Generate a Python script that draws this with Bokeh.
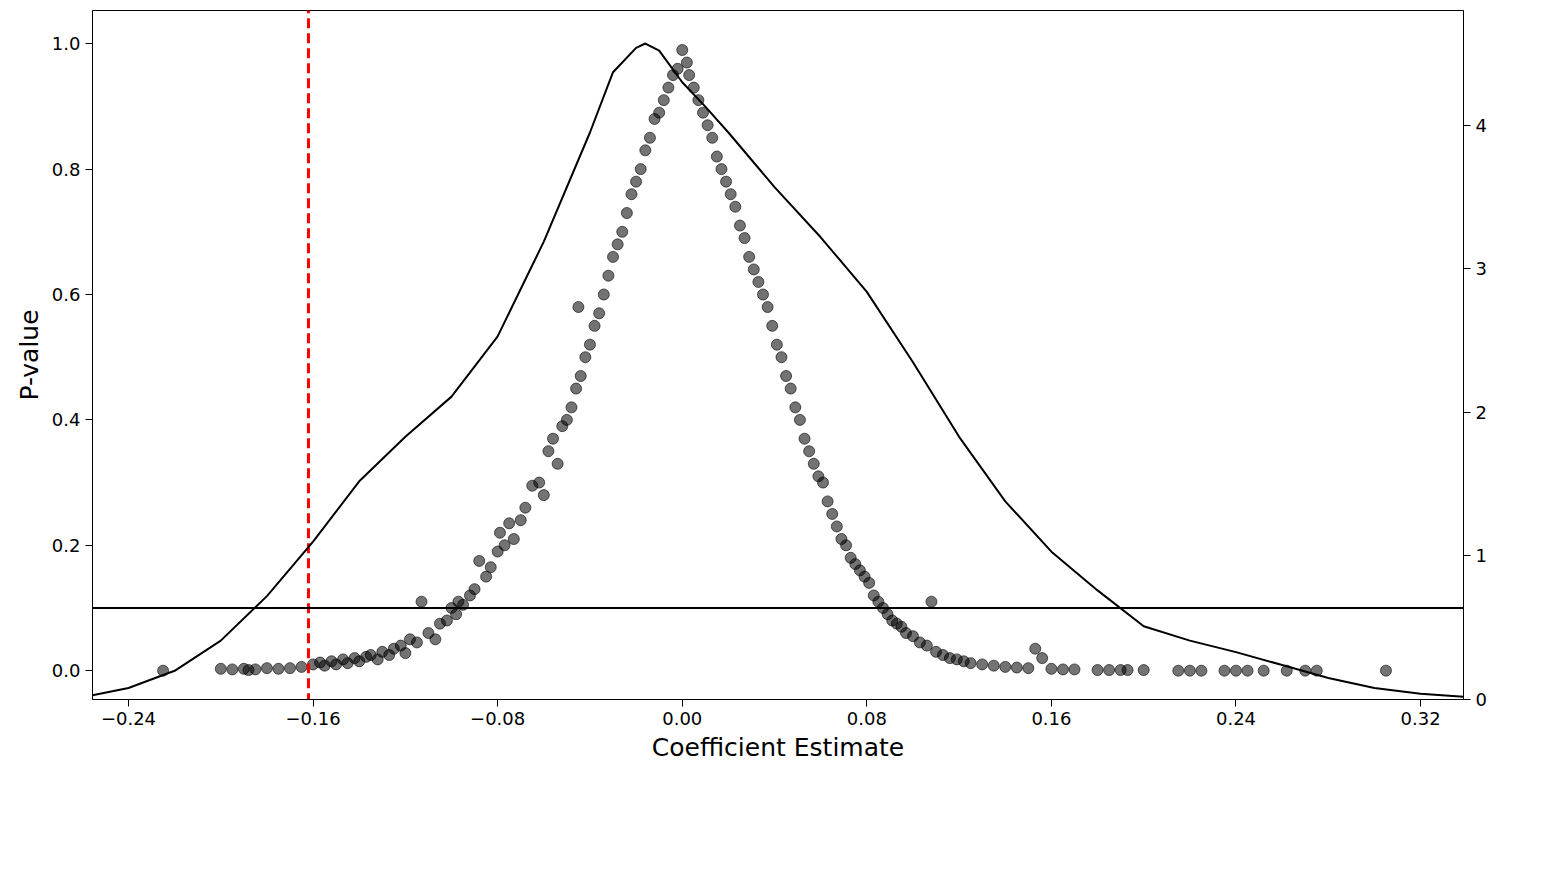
import math
from bokeh.plotting import figure
from bokeh.models import Range1d, LinearAxis, Legend, LegendItem, Span, FixedTicker, Label
from bokeh.embed import file_html
from bokeh.resources import INLINE

coef = [-0.225,-0.2,-0.195,-0.19,-0.188,-0.185,-0.18,-0.175,-0.17,-0.165,-0.16,-0.157,-0.155,-0.152,-0.15,-0.147,-0.145,-0.142,-0.14,-0.137,-0.135,-0.132,-0.13,-0.127,-0.125,-0.122,-0.12,-0.118,-0.115,-0.113,-0.11,-0.107,-0.105,-0.102,-0.1,-0.098,-0.097,-0.095,-0.092,-0.09,-0.088,-0.085,-0.083,-0.08,-0.079,-0.077,-0.075,-0.073,-0.07,-0.068,-0.065,-0.062,-0.06,-0.058,-0.056,-0.054,-0.052,-0.05,-0.048,-0.046,-0.045,-0.044,-0.042,-0.04,-0.038,-0.036,-0.034,-0.032,-0.03,-0.028,-0.026,-0.024,-0.022,-0.02,-0.018,-0.016,-0.014,-0.012,-0.01,-0.008,-0.006,-0.004,-0.002,0.0,0.002,
0.003,0.005,0.007,0.009,0.011,0.013,0.015,0.017,0.019,0.021,0.023,0.025,0.027,0.029,0.031,0.033,0.035,0.037,0.039,0.041,0.043,0.045,0.047,0.049,0.051,0.053,0.055,0.057,0.059,0.061,0.063,0.065,0.067,0.069,0.071,0.073,0.075,0.077,0.079,0.081,0.083,0.085,0.087,0.089,0.091,0.093,0.095,0.097,0.1,0.103,0.106,0.108,0.11,0.113,0.116,0.119,0.122,0.125,0.13,0.135,0.14,0.145,0.15,0.153,0.156,0.16,0.165,0.17,0.18,0.185,0.19,0.193,0.2,0.215,0.22,0.225,0.235,0.24,0.245,0.252,0.262,0.27,0.275,0.305]
pvals = [0,0.003,0.002,0.003,0.001,0.002,0.004,0.003,0.004,0.006,0.01,0.013,0.008,0.015,0.01,0.018,0.012,0.02,0.015,0.022,0.025,0.018,0.03,0.025,0.035,0.04,0.028,0.05,0.045,0.11,0.06,0.05,0.075,0.08,0.1,0.09,0.11,0.105,0.12,0.13,0.175,0.15,0.165,0.19,0.22,0.2,0.235,0.21,0.24,0.26,0.295,0.3,0.28,0.35,0.37,0.33,0.39,0.4,0.42,0.45,0.58,0.47,0.5,0.52,0.55,0.57,0.6,0.63,0.66,0.68,0.7,0.73,0.76,0.78,0.8,0.83,0.85,0.88,0.89,0.91,0.93,0.95,0.96,0.99,0.97,
0.95,0.93,0.91,0.89,0.87,0.85,0.82,0.8,0.78,0.76,0.74,0.71,0.69,0.66,0.64,0.62,0.6,0.58,0.55,0.52,0.5,0.47,0.45,0.42,0.4,0.37,0.35,0.33,0.31,0.3,0.27,0.25,0.23,0.21,0.2,0.18,0.17,0.16,0.15,0.14,0.12,0.11,0.1,0.09,0.08,0.075,0.07,0.06,0.055,0.045,0.04,0.11,0.03,0.025,0.02,0.018,0.015,0.012,0.01,0.008,0.006,0.005,0.004,0.035,0.02,0.003,0.002,0.002,0.001,0.001,0.001,0.001,0.001,0,0,0,0,0,0,0,0,0,0,0]

dens_x = [-0.2556,-0.24,-0.22,-0.20,-0.18,-0.16,-0.14,-0.12,-0.10,-0.08,-0.06,-0.04,-0.03,-0.02,-0.016,-0.01,0.0,0.01,0.02,0.04,0.06,0.08,0.10,0.12,0.14,0.16,0.18,0.20,0.22,0.24,0.26,0.28,0.30,0.32,0.3386]
dens_y = [0.03,0.08,0.2,0.41,0.72,1.1,1.52,1.83,2.11,2.53,3.19,3.95,4.37,4.54,4.57,4.52,4.30,4.13,3.95,3.57,3.22,2.84,2.35,1.83,1.38,1.03,0.76,0.51,0.41,0.33,0.24,0.15,0.08,0.04,0.02]

true_coef = -0.162
p_threshold = 0.1

p = figure(width=1536, height=862, output_backend="svg", toolbar_location=None,
           x_range=Range1d(-0.2556, 0.3386), y_range=Range1d(-0.046, 1.053),
           min_border_left=92, min_border_right=73, min_border_top=10, min_border_bottom=163)
p.extra_y_ranges = {"dens": Range1d(0, 4.8)}
p.xgrid.visible = False
p.ygrid.visible = False
p.outline_line_color = "black"
p.background_fill_color = "white"

p.xaxis.ticker = FixedTicker(ticks=[-0.24,-0.16,-0.08,0.0,0.08,0.16,0.24,0.32])
p.xaxis.major_label_overrides = {-0.24:"−0.24",-0.16:"−0.16",-0.08:"−0.08",0.0:"0.00",0.08:"0.08",0.16:"0.16",0.24:"0.24",0.32:"0.32"}
p.yaxis.ticker = FixedTicker(ticks=[0,0.2,0.4,0.6,0.8,1.0])
p.yaxis.major_label_overrides = {0:"0.0",0.2:"0.2",0.4:"0.4",0.6:"0.6",0.8:"0.8",1.0:"1.0"}
p.xaxis.axis_label = "Coefficient Estimate"
p.yaxis.axis_label = "P-value"

ax2 = LinearAxis(y_range_name="dens", ticker=FixedTicker(ticks=[0,1,2,3,4]))
p.add_layout(ax2, "right")

for ax in [p.xaxis[0], p.yaxis[0], ax2]:
    ax.axis_label_text_font = "DejaVu Sans"
    ax.axis_label_text_font_size = "25px"
    ax.axis_label_text_font_style = "normal"
    ax.axis_label_text_color = "black"
    ax.major_label_text_font = "DejaVu Sans"
    ax.major_label_text_font_size = "18px"
    ax.major_label_text_color = "black"
    ax.minor_tick_line_color = None
    ax.major_tick_out = 7
    ax.major_tick_in = 0
    ax.axis_line_color = "black"

p.add_layout(Label(x=1371 + 55, y=345, x_units="screen", y_units="screen",
                   text="Probability Density", angle=math.pi / 2,
                   text_font="DejaVu Sans", text_font_size="25px",
                   text_align="center", text_baseline="middle", text_color="black"))

sc = p.scatter(coef, pvals, size=11, fill_color="black", fill_alpha=0.55,
               line_color="black", line_alpha=0.6)
hl = Span(location=p_threshold, dimension="width", line_color="black", line_width=2)
p.add_layout(hl)
rl = p.line([true_coef, true_coef], [-0.1, 1.2], line_color="red", line_width=3, line_dash="10 5")
dl = p.line(dens_x, dens_y, line_color="black", line_width=2, y_range_name="dens")

leg = Legend(items=[LegendItem(label="P-values", renderers=[sc]),
                    LegendItem(label="True coefficient", renderers=[rl]),
                    LegendItem(label="Coefficient density distribution", renderers=[dl])],
             orientation="horizontal", location=(170, -165), border_line_color=None,
             background_fill_alpha=0,
             label_text_font="DejaVu Sans", label_text_font_size="25px",
             spacing=50, glyph_width=50, padding=5)
p.add_layout(leg, "center")

open("out.html", "w").write(file_html(p, INLINE))
